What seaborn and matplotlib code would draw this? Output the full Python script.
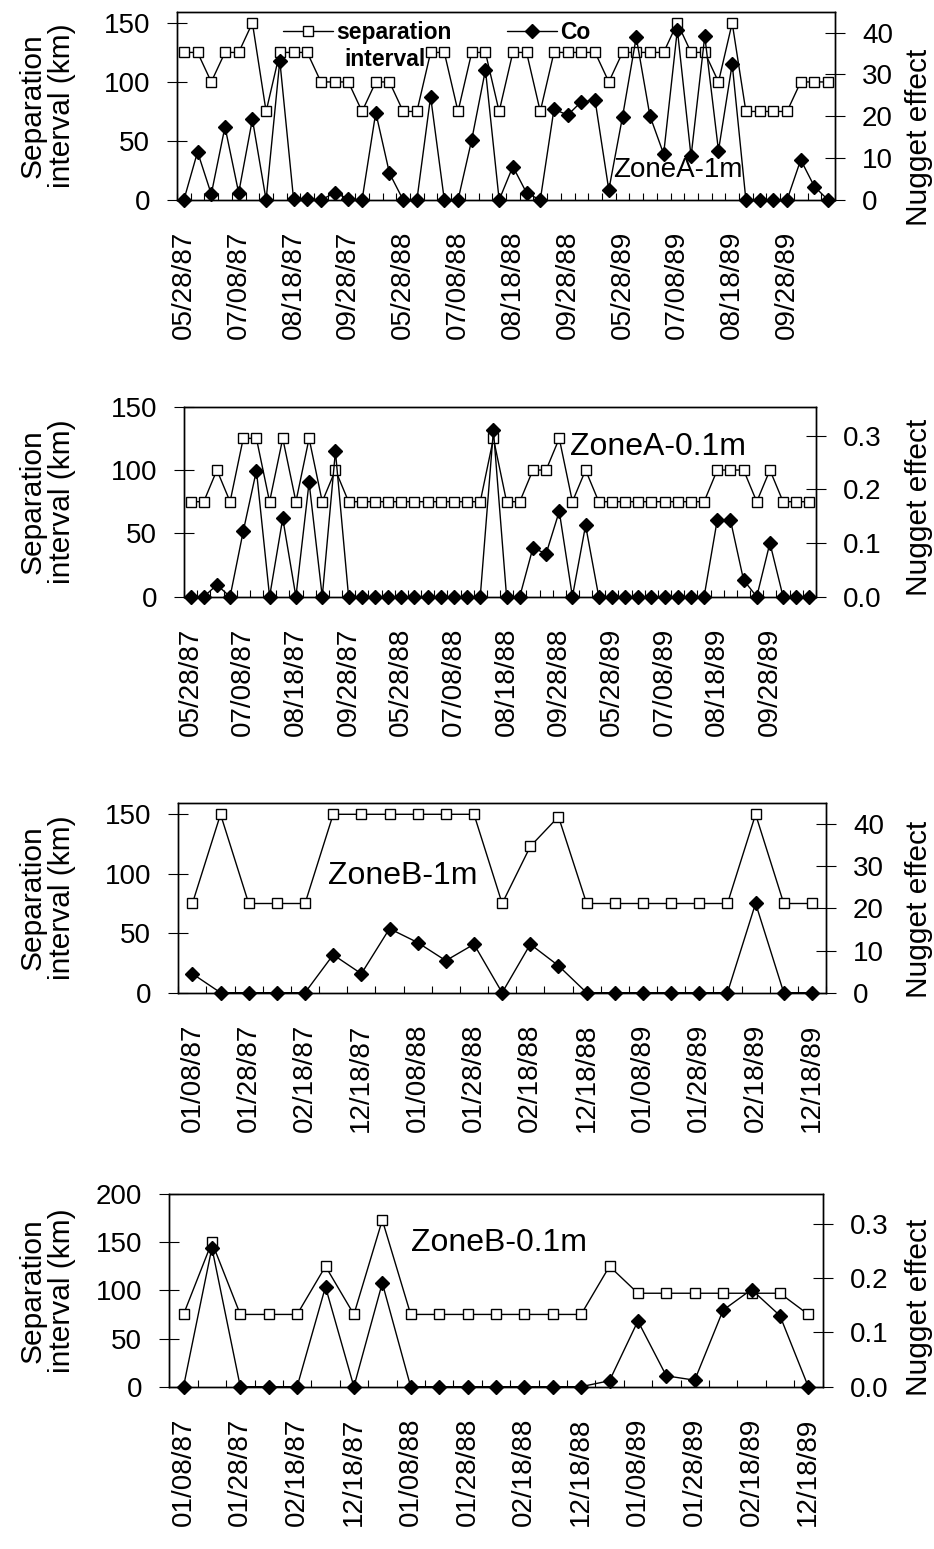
import numpy as np
import pandas as pd
import matplotlib
matplotlib.use("Agg")
import matplotlib.pyplot as plt
import matplotlib.transforms as mtransforms
from matplotlib.ticker import FormatStrFormatter
import seaborn as sns

# ---- data -------------------------------------------------------------
# Zone A: 48 sampling dates (16 per season), every 4th one labelled
zone_a_ticklabels = ['05/28/87', '07/08/87', '08/18/87', '09/28/87',
                     '05/28/88', '07/08/88', '08/18/88', '09/28/88',
                     '05/28/89', '07/08/89', '08/18/89', '09/28/89']
zone_a_step = 4
# Zone B: 23 sampling dates, every 2nd one labelled
zone_b_ticklabels = ['01/08/87', '01/28/87', '02/18/87', '12/18/87',
                     '01/08/88', '01/28/88', '02/18/88', '12/18/88',
                     '01/08/89', '01/28/89', '02/18/89', '12/18/89']
zone_b_step = 2

# separation interval (km) and nugget effect (Co)
sep_a_1m = [125, 125, 100, 125, 125, 150, 75, 125, 125, 125,
            100, 100, 100, 75, 100, 100, 75, 75, 125, 125,
            75, 125, 125, 75, 125, 125, 75, 125, 125, 125,
            125, 100, 125, 125, 125, 125, 150, 125, 125, 100,
            150, 75, 75, 75, 75, 100, 100, 100]
co_a_1m = [0, 11.5, 1.4, 17.5, 1.7, 19.3, 0, 33.3, 0.3, 0.3,
           0, 1.7, 0.3, 0, 20.9, 6.4, 0, 0, 24.7, 0,
           0, 14.4, 31.1, 0, 8.0, 1.7, 0, 21.7, 20.3, 23.5,
           23.8, 2.4, 19.9, 38.9, 20.1, 11.0, 40.7, 10.4, 39.2, 11.8,
           32.5, 0, 0, 0, 0, 9.6, 3.2, 0]

sep_a_01m = [75, 75, 100, 75, 125, 125, 75, 125, 75, 125,
             75, 100, 75, 75, 75, 75, 75, 75, 75, 75,
             75, 75, 75, 125, 75, 75, 100, 100, 125, 75,
             100, 75, 75, 75, 75, 75, 75, 75, 75, 75,
             100, 100, 100, 75, 100, 75, 75, 75]
co_a_01m = [0, 0, 0.022, 0, 0.122, 0.235, 0, 0.146, 0, 0.213,
            0, 0.271, 0, 0, 0, 0, 0, 0, 0, 0,
            0, 0, 0, 0.31, 0, 0, 0.091, 0.080, 0.159, 0,
            0.133, 0, 0, 0, 0, 0, 0, 0, 0, 0,
            0.143, 0.143, 0.031, 0, 0.1, 0, 0, 0]

sep_b_1m = [75, 150, 75, 75, 75, 150, 150, 150, 150, 150,
            150, 75, 123, 148, 75, 75, 75, 75, 75, 75,
            150, 75, 75]
co_b_1m = [4.5, 0, 0, 0, 0, 9.0, 4.5, 15.2, 11.9, 7.6,
           11.5, 0, 11.5, 6.4, 0, 0, 0, 0, 0, 0,
           21.2, 0, 0]

sep_b_01m = [75, 150, 75, 75, 75, 125, 75, 173, 75, 75,
             75, 75, 75, 75, 75, 125, 97, 97, 97, 97,
             97, 97, 75]
co_b_01m = [0, 0.256, 0, 0, 0, 0.184, 0, 0.191, 0, 0,
            0, 0, 0, 0, 0, 0.011, 0.121, 0.02, 0.012, 0.141,
            0.179, 0.131, 0]

panel_titles = ['ZoneA-1m', 'ZoneA-0.1m', 'ZoneB-1m', 'ZoneB-0.1m']
left_label = 'Separation\ninterval (km)'
right_label = 'Nugget effect'
legend_labels = ['separation', 'Co']
legend_second_line = 'interval'

# ---- style ------------------------------------------------------------
sns.set_theme(style='ticks')
plt.rcParams['font.family'] = ['Liberation Sans', 'DejaVu Sans']
plt.rcParams['axes.linewidth'] = 1.0
plt.rcParams['axes.edgecolor'] = 'black'
plt.rcParams['xtick.color'] = 'black'
plt.rcParams['ytick.color'] = 'black'
plt.rcParams['text.color'] = 'black'
plt.rcParams['axes.labelcolor'] = 'black'

W, H = 934, 1549
fig = plt.figure(figsize=(W / 100, H / 100), dpi=100)
fig.patch.set_facecolor('white')

TICK_FS = 20
DATE_FS = 20
LABEL_FS = 21.5
LEG_FS = 16.5


def draw_panel(rect, sep, co, ticklabels, step, left_lim, left_ticks,
               right_lim, right_ticks, right_fmt, title, title_xy,
               title_fs, right_label_y):
    ax = fig.add_axes(rect)
    n = len(sep)
    df = pd.DataFrame({'sample': np.arange(n), 'sep': sep, 'co': co})

    sns.lineplot(data=df, x='sample', y='sep', ax=ax, color='black',
                 linewidth=1.0, marker='s', markersize=7,
                 markerfacecolor='white', markeredgecolor='black',
                 markeredgewidth=1.0, errorbar=None, clip_on=False)
    ax2 = ax.twinx()
    sns.lineplot(data=df, x='sample', y='co', ax=ax2, color='black',
                 linewidth=1.0, marker='D', markersize=7,
                 markerfacecolor='black', markeredgecolor='black',
                 markeredgewidth=1.0, errorbar=None, clip_on=False)

    ax.set_xlim(-0.5, n - 0.5)
    ax.set_ylim(*left_lim)
    ax2.set_ylim(*right_lim)

    # category labels and boundary tick marks
    ax.set_xticks(np.arange(0, n, step))
    ax.set_xticklabels(ticklabels, rotation=90, fontsize=DATE_FS)
    ax.set_xticks(np.arange(-0.5, n, 1.0), minor=True)
    ax.tick_params(axis='x', which='major', length=0, pad=22)
    ax.tick_params(axis='x', which='minor', direction='in', length=5,
                   width=0.8)

    ax.set_yticks(left_ticks)
    ax.tick_params(axis='y', which='major', direction='inout', length=14,
                   width=0.8, pad=12.5, labelsize=TICK_FS)
    ax.tick_params(axis='y', which='minor', length=0)
    ax2.set_yticks(right_ticks)
    ax2.yaxis.set_major_formatter(FormatStrFormatter(right_fmt))
    ax2.tick_params(axis='y', which='major', direction='inout', length=14,
                    width=0.8, pad=12.5, labelsize=TICK_FS)
    ax2.tick_params(axis='y', which='minor', length=0)

    for a in (ax, ax2):
        for s in a.spines.values():
            s.set_visible(True)
            s.set_color('black')
            s.set_linewidth(1.0)

    ax.set_xlabel('')
    ax.set_ylabel(left_label, fontsize=LABEL_FS, linespacing=1.05)
    ax.yaxis.set_label_coords(
        76 / W, 0.5,
        transform=mtransforms.blended_transform_factory(fig.transFigure,
                                                        ax.transAxes))
    ax2.set_ylabel(right_label, fontsize=LABEL_FS)
    ax2.yaxis.set_label_coords(
        905 / W, right_label_y,
        transform=mtransforms.blended_transform_factory(fig.transFigure,
                                                        ax2.transAxes))

    ax.text(title_xy[0], title_xy[1], title, transform=ax.transAxes,
            fontsize=title_fs, ha='left', va='center')
    return ax, ax2


def frac_rect(left, top, right, bottom):
    return [left / W, (H - bottom) / H, (right - left) / W, (bottom - top) / H]


ax1, ax1b = draw_panel(frac_rect(177, 11.7, 835, 200), sep_a_1m, co_a_1m,
                       zone_a_ticklabels, zone_a_step, (0, 159.5),
                       [0, 50, 100, 150], (0, 45), [0, 10, 20, 30, 40], '%d',
                       panel_titles[0], (0.663, 0.159), 20, 0.335)
draw_panel(frac_rect(184, 406.7, 816, 596.7), sep_a_01m, co_a_01m,
           zone_a_ticklabels, zone_a_step, (0, 150), [0, 50, 100, 150],
           (0, 0.354), [0.0, 0.1, 0.2, 0.3], '%.1f',
           panel_titles[1], (0.611, 0.789), 23, 0.47)
draw_panel(frac_rect(178.3, 803, 826, 992.7), sep_b_1m, co_b_1m,
           zone_b_ticklabels, zone_b_step, (0, 159.5), [0, 50, 100, 150],
           (0, 45), [0, 10, 20, 30, 40], '%d',
           panel_titles[2], (0.2305, 0.615), 23, 0.44)
draw_panel(frac_rect(169.3, 1194, 822.5, 1386.7), sep_b_01m, co_b_01m,
           zone_b_ticklabels, zone_b_step, (0, 200), [0, 50, 100, 150, 200],
           (0, 0.355), [0.0, 0.1, 0.2, 0.3], '%.1f',
           panel_titles[3], (0.3696, 0.744), 23, 0.41)

# legend of the top panel
leg_font = {'family': ['Liberation Sans', 'DejaVu Sans'], 'weight': 'bold',
            'size': LEG_FS}
leg = ax1b.legend([ax1.lines[0], ax1b.lines[0]], legend_labels,
                  loc='upper left', bbox_to_anchor=(0.161, 0.95),
                  frameon=False, ncol=2, handlelength=2.2,
                  handletextpad=0.14, columnspacing=2.4, borderpad=0,
                  borderaxespad=0, prop=leg_font)
ax1b.annotate(legend_second_line, xy=(0.5, 0), xycoords=leg.get_texts()[0],
              xytext=(-7, -3), textcoords='offset points', ha='center',
              va='top', fontsize=LEG_FS, fontweight='bold', zorder=6)

fig.savefig('out.png', dpi=100, facecolor='white')
